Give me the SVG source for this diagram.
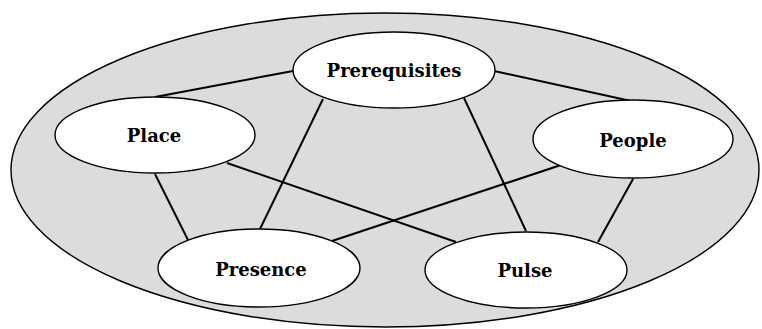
<svg xmlns="http://www.w3.org/2000/svg" width="762" height="329" viewBox="0 0 762 329">
<style>
.outer{fill:#dcdcdc;stroke:#000;stroke-width:1.4}
.node{fill:#fff;stroke:#000;stroke-width:1.4}
.edge{stroke:#000;stroke-width:2;fill:none}
text{font-family:"DejaVu Serif","Liberation Serif",serif;font-weight:bold;font-size:18px;text-anchor:middle;fill:#000}
</style>
<rect width="762" height="329" fill="#fff"/>
<g id="boundary"><ellipse class="outer" cx="385" cy="170" rx="374" ry="157"/></g>
<g id="connectors">
<line class="edge" x1="293" y1="71" x2="155" y2="97"/>
<line class="edge" x1="494" y1="71" x2="631" y2="101"/>
<line class="edge" x1="323" y1="99" x2="260" y2="229"/>
<line class="edge" x1="464" y1="98" x2="526" y2="231"/>
<line class="edge" x1="155" y1="174" x2="188" y2="240"/>
<line class="edge" x1="227" y1="163" x2="456" y2="242"/>
<line class="edge" x1="561" y1="165" x2="332" y2="241"/>
<line class="edge" x1="633" y1="179" x2="598" y2="242"/>
</g>
<g id="prerequisites"><ellipse class="node" cx="394" cy="70" rx="101" ry="38"/><text x="394" y="77">Prerequisites</text></g>
<g id="place"><ellipse class="node" cx="155" cy="135" rx="100" ry="38"/><text x="154" y="142">Place</text></g>
<g id="people"><ellipse class="node" cx="633" cy="139" rx="100" ry="39"/><text x="633" y="147">People</text></g>
<g id="presence"><ellipse class="node" cx="259" cy="268" rx="101" ry="39"/><text x="261" y="276">Presence</text></g>
<g id="pulse"><ellipse class="node" cx="526" cy="270" rx="101" ry="38"/><text x="525" y="277">Pulse</text></g>
</svg>
